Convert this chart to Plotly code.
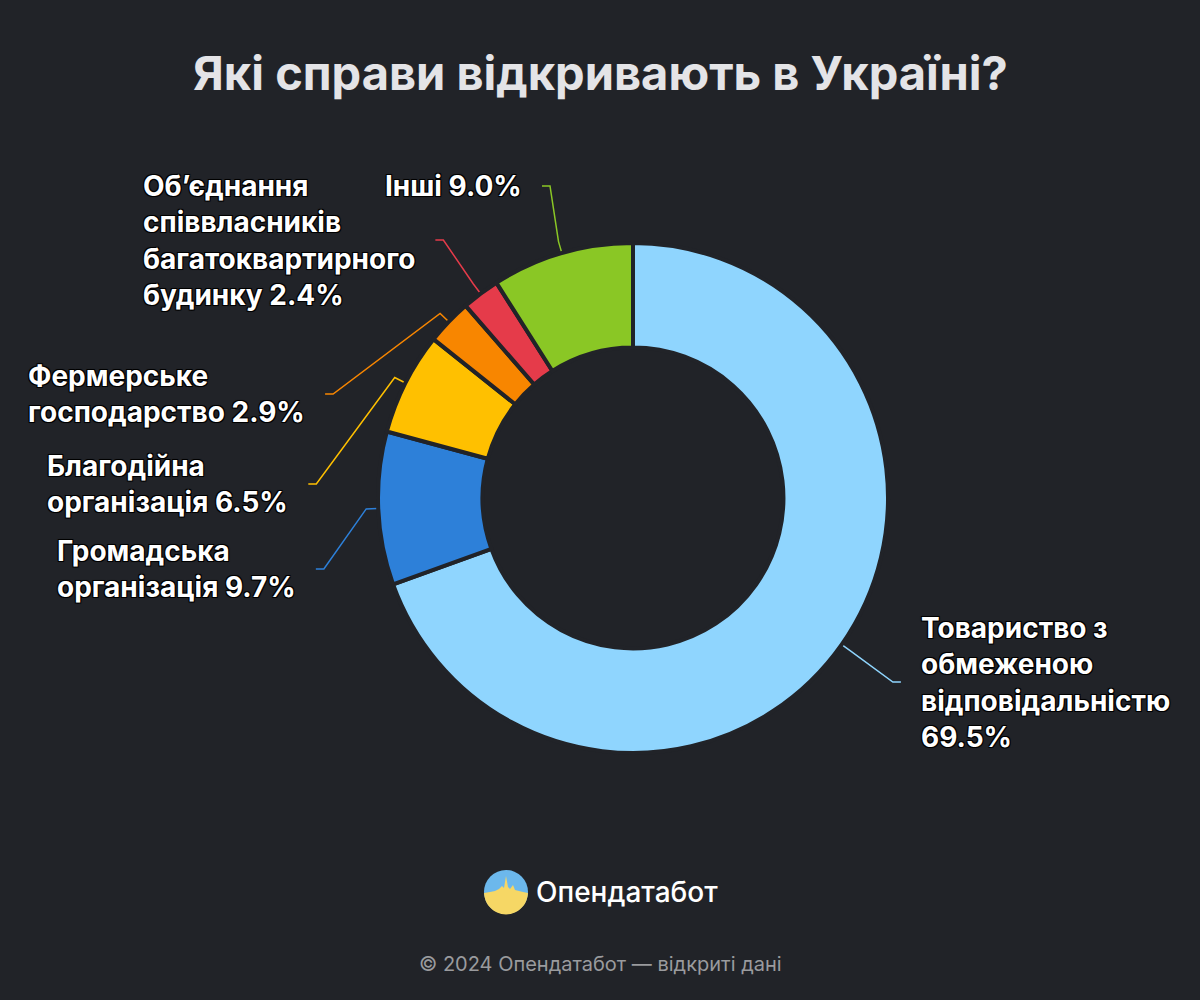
import math
import textwrap
import plotly.graph_objects as go

# ---------------- data ----------------
categories = [
    "Товариство з обмеженою відповідальністю",
    "Громадська організація",
    "Благодійна організація",
    "Фермерське господарство",
    "Об’єднання співвласників багатоквартирного будинку",
    "Інші",
]
shares = [69.5, 9.7, 6.5, 2.9, 2.4, 9.0]
colors = ["#8FD5FE", "#2D80D9", "#FFC000", "#F88600", "#E53B4A", "#8AC725"]

title_text = "Які справи відкривають в Україні?"
brand_text = "Опендатабот"
footer_text = "© 2024 Опендатабот — відкриті дані"

# ---------------- layout constants ----------------
W, H = 1200, 1000
BG = "#212328"
CX, CY, R = 633, 498, 255      # donut centre / outer radius (px)
HOLE = 0.59
LABEL_R = 325                  # radius on which label anchors sit
LABEL_Y = [682, 569, 484, 394, 240, 186]   # vertical placement of labels (px)
LABEL_FONT = dict(family="Inter, Roboto, sans-serif", size=28,
                  color="#FFFFFF", weight="bold",
                  shadow="-1px -1px 0 #000, 1px -1px 0 #000, -1px 1px 0 #000, 1px 1px 0 #000, 0 0 2px #000")

fig = go.Figure()

fig.add_trace(go.Pie(
    labels=categories,
    values=shares,
    hole=HOLE,
    sort=False,
    direction="clockwise",
    rotation=0,
    textinfo="none",
    marker=dict(colors=colors, line=dict(color=BG, width=4)),
    domain=dict(x=[(CX - R) / W, (CX + R) / W], y=[1 - (CY + R) / H, 1 - (CY - R) / H]),
    showlegend=False,
    hovertemplate="%{label}: %{value}%<extra></extra>",
))

annotations = []
total = sum(shares)
cum = 0.0
for i, (cat, val, col) in enumerate(zip(categories, shares, colors)):
    mid = math.radians((cum + val / 2) / total * 360)
    cum += val
    sx, sy = math.sin(mid), -math.cos(mid)
    edge = (CX + (R + 1) * sx, CY + (R + 1) * sy)
    brk = (CX + (R + 12) * sx, CY + (R + 12) * sy)
    side = 1 if sx > 0 else -1
    ly = LABEL_Y[i]
    lx = CX + side * math.sqrt(max(LABEL_R ** 2 - (ly - CY) ** 2, 0))
    xs = [edge[0], brk[0], lx - side * 8, lx]
    ys = [edge[1], brk[1], ly, ly]
    fig.add_trace(go.Scatter(x=xs, y=ys, mode="lines",
                             line=dict(color=col, width=1.5),
                             hoverinfo="skip", showlegend=False))
    text = "<br>".join(textwrap.wrap(f"{cat} {val:.1f}%", width=17))
    annotations.append(dict(
        x=lx + side * 18, y=ly, xref="x", yref="y", text=text, showarrow=False,
        xanchor="left" if side > 0 else "right", yanchor="middle", align="left",
        font=LABEL_FONT,
    ))

# title, brand, footer
annotations.append(dict(x=W / 2, y=72, xref="x", yref="y", text=f"<b>{title_text}</b>",
                        showarrow=False, xanchor="center", yanchor="middle",
                        font=dict(family="Inter, Roboto, sans-serif", size=47, color="#E4E4E7")))
annotations.append(dict(x=534, y=892, xref="x", yref="y", text=brand_text,
                        showarrow=False, xanchor="left", yanchor="middle",
                        font=dict(family="Inter, Roboto, sans-serif", size=28, color="#FFFFFF", weight=500)))
annotations.append(dict(x=W / 2, y=964, xref="x", yref="y", text=footer_text,
                        showarrow=False, xanchor="center", yanchor="middle",
                        font=dict(family="Inter, Roboto, sans-serif", size=20, color="#9A9B9E")))

# logo (decorative): blue circle with yellow lower part and a spike line
LX, LY, LR = 506, 892, 22
shapes = [dict(type="circle", xref="x", yref="y", x0=LX - LR, x1=LX + LR, y0=LY - LR, y1=LY + LR,
               fillcolor="#6CB8EC", line=dict(width=0), layer="above")]
jag = [(-22, 1), (-16, 0), (-11, -1), (-7, -3), (-4, -6), (-2, -4), (0, -16), (2, -5), (4, -3),
       (7, -7), (9, -2), (13, -1), (17, 0), (22, 1)]
pts = [(LX + dx, LY + dy) for dx, dy in jag]
for k in range(1, 30):
    a = math.pi * k / 30
    pts.append((LX + LR * math.cos(a) * 0.995, LY + LR * math.sin(a) * 0.995 + 0.5))
path = "M " + " L ".join(f"{x:.1f},{y:.1f}" for x, y in pts) + " Z"
shapes.append(dict(type="path", xref="x", yref="y", path=path, fillcolor="#F6D765",
                   line=dict(width=0), layer="above"))

fig.update_layout(
    width=W, height=H,
    paper_bgcolor=BG, plot_bgcolor="rgba(0,0,0,0)",
    margin=dict(l=0, r=0, t=0, b=0),
    xaxis=dict(range=[0, W], visible=False, fixedrange=True, domain=[0, 1]),
    yaxis=dict(range=[H, 0], visible=False, fixedrange=True, domain=[0, 1]),
    annotations=annotations,
    shapes=shapes,
    hovermode="closest",
)

fig.write_html(
    "out.html",
    config={"displayModeBar": False},
    post_script="document.body.style.margin='0';document.body.style.background='" + BG + "';",
)
